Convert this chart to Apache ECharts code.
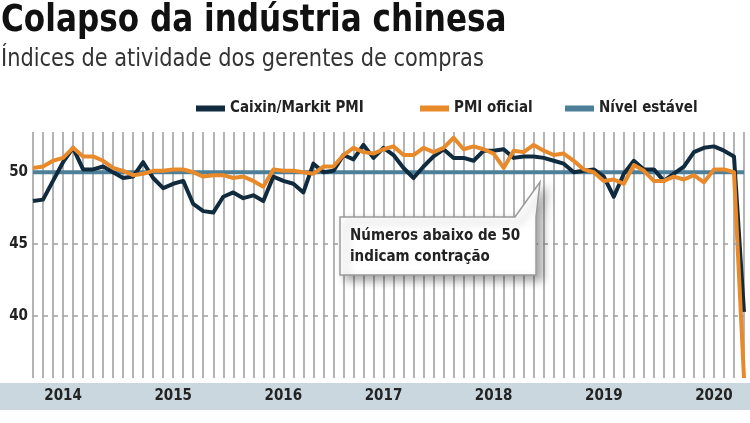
<!DOCTYPE html>
<html lang="pt">
<head>
<meta charset="UTF-8">
<title>Colapso da indústria chinesa</title>
<style>
  html, body { margin: 0; padding: 0; background: #fff; }
  #chart { width: 750px; height: 423px; }
</style>
<script src="https://cdn.jsdelivr.net/npm/echarts@6/dist/echarts.min.js"></script>
</head>
<body>
<div id="chart"></div>
<script>
// meses: mar/2014 a fev/2020
var months = [];
for (var y = 2014; y <= 2020; y++) {
    for (var m = 1; m <= 12; m++) {
        if ((y === 2014 && m < 3) || (y === 2020 && m > 2)) continue;
        months.push(y + '-' + (m < 10 ? '0' + m : m));
    }
}

// Caixin/Markit PMI
var caixin = [
    48.0, 48.1, 49.4, 50.7, 51.7, 50.2, 50.2, 50.4, 50.0, 49.6,
    49.7, 50.7, 49.6, 48.9, 49.2, 49.4, 47.8, 47.3, 47.2, 48.3, 48.6, 48.2,
    48.4, 48.0, 49.7, 49.4, 49.2, 48.6, 50.6, 50.0, 50.1, 51.2, 50.9, 51.9,
    51.0, 51.7, 51.2, 50.3, 49.6, 50.4, 51.1, 51.6, 51.0, 51.0, 50.8, 51.5,
    51.5, 51.6, 51.0, 51.1, 51.1, 51.0, 50.8, 50.6, 50.0, 50.1, 50.2, 49.7,
    48.3, 49.9, 50.8, 50.2, 50.2, 49.4, 49.9, 50.4, 51.4, 51.7, 51.8, 51.5,
    51.1, 40.3
];

// PMI oficial
var oficial = [
    50.3, 50.4, 50.8, 51.0, 51.7, 51.1, 51.1, 50.8, 50.3, 50.1,
    49.8, 49.9, 50.1, 50.1, 50.2, 50.2, 50.0, 49.7, 49.8, 49.8, 49.6, 49.7,
    49.4, 49.0, 50.2, 50.1, 50.1, 50.0, 49.9, 50.4, 50.4, 51.2, 51.7, 51.4,
    51.3, 51.6, 51.8, 51.2, 51.2, 51.7, 51.4, 51.7, 52.4, 51.6, 51.8, 51.6,
    51.3, 50.3, 51.5, 51.4, 51.9, 51.5, 51.2, 51.3, 50.8, 50.2, 50.0, 49.4,
    49.5, 49.2, 50.5, 50.1, 49.4, 49.4, 49.7, 49.5, 49.8, 49.3, 50.2, 50.2,
    50.0, 35.7
];

var stableLevel = 50;
var yTicks = [40, 45, 50];
var yearLabels = ['2014', '2015', '2016', '2017', '2018', '2019', '2020'];
// meses onde o rótulo do ano aparece no gráfico original
var yearSlots = ['2014-06', '2015-05', '2016-04', '2017-02', '2018-01', '2018-12', '2019-11'];

var narrow = "'Liberation Sans Narrow', 'DejaVu Sans Condensed', sans-serif";

var stable = [];
for (var i = 0; i < months.length; i++) stable.push(stableLevel);

var chart = echarts.init(document.getElementById('chart'));

var legendText = { fontFamily: narrow, fontWeight: 'bold', fontSize: 15, color: '#222' };
var legendBase = { top: 101, padding: 0, itemWidth: 29, itemHeight: 6, icon: 'rect', textStyle: legendText };

var option = {
    backgroundColor: '#fff',
    animation: false,
    legend: [
        Object.assign({ data: ['Caixin/Markit PMI'], left: 196 }, legendBase),
        Object.assign({ data: ['PMI oficial'], left: 420 }, legendBase),
        Object.assign({ data: ['Nível estável'], left: 565 }, legendBase)
    ],
    grid: { left: 33, right: 6, top: 132, bottom: 45 },
    xAxis: {
        type: 'category',
        data: months,
        boundaryGap: false,
        axisLine: { show: false },
        axisTick: { show: false },
        axisLabel: {
            margin: 11,
            interval: function (idx, val) { return yearSlots.indexOf(val) >= 0; },
            formatter: function (val) { return yearLabels[yearSlots.indexOf(val)]; },
            fontFamily: narrow, fontWeight: 'bold', fontSize: 15, color: '#222'
        },
        splitLine: { show: true, interval: 0, lineStyle: { color: '#b4b4b4', width: 2 } }
    },
    yAxis: {
        type: 'value',
        min: 35.7,
        max: 52.8,
        axisLine: { show: false },
        axisTick: { show: false },
        splitLine: { show: false },
        axisLabel: {
            customValues: yTicks,
            margin: 5,
            fontFamily: narrow, fontWeight: 'bold', fontSize: 15, color: '#222'
        }
    },
    graphic: [
        {
            type: 'text', x: 1, y: 3, scaleX: 0.935,
            style: { text: 'Colapso da indústria chinesa', fontFamily: narrow, fontWeight: 'bold', fontSize: 37, fill: '#111' }
        },
        {
            type: 'text', x: 1, y: 47, scaleX: 0.93,
            style: { text: 'Índices de atividade dos gerentes de compras', fontFamily: narrow, fontWeight: 'normal', fontSize: 25, fill: '#333' }
        },
        { type: 'rect', z: -10, shape: { x: 0, y: 383, width: 750, height: 27 }, style: { fill: '#cbd7df' } },
        {
            type: 'polygon', z: 100,
            shape: { points: [[340, 217], [515, 217], [540, 182], [536, 217], [536, 275], [340, 275]] },
            style: {
                fill: '#fff', stroke: '#9a9a9a', lineWidth: 1.5,
                shadowBlur: 10, shadowColor: 'rgba(0,0,0,0.35)', shadowOffsetX: 6, shadowOffsetY: 5
            }
        },
        {
            type: 'text', z: 101, x: 350, y: 226,
            style: {
                text: 'Números abaixo de 50\nindicam contração',
                fontFamily: narrow, fontWeight: 'bold', fontSize: 15, lineHeight: 21, fill: '#222'
            }
        }
    ],
    series: [
        {
            name: 'Nível estável',
            type: 'line',
            data: stable,
            symbol: 'none',
            silent: true,
            itemStyle: { color: '#4d7f98' },
            lineStyle: { color: '#4d7f98', width: 4 },
            z: 2,
            markLine: {
                silent: true,
                symbol: 'none',
                label: { show: false },
                lineStyle: { color: '#a0a0a0', width: 1.5, type: [5, 5] },
                data: [{ yAxis: yTicks[0] }, { yAxis: yTicks[1] }]
            }
        },
        {
            name: 'Caixin/Markit PMI',
            type: 'line',
            data: caixin,
            symbol: 'none',
            itemStyle: { color: '#102a3e' },
            lineStyle: { color: '#102a3e', width: 4, join: 'round' },
            z: 3
        },
        {
            name: 'PMI oficial',
            type: 'line',
            data: oficial,
            symbol: 'none',
            itemStyle: { color: '#e8892a' },
            lineStyle: { color: '#e8892a', width: 4, join: 'round' },
            z: 4
        }
    ]
};

chart.setOption(option);
</script>
</body>
</html>
